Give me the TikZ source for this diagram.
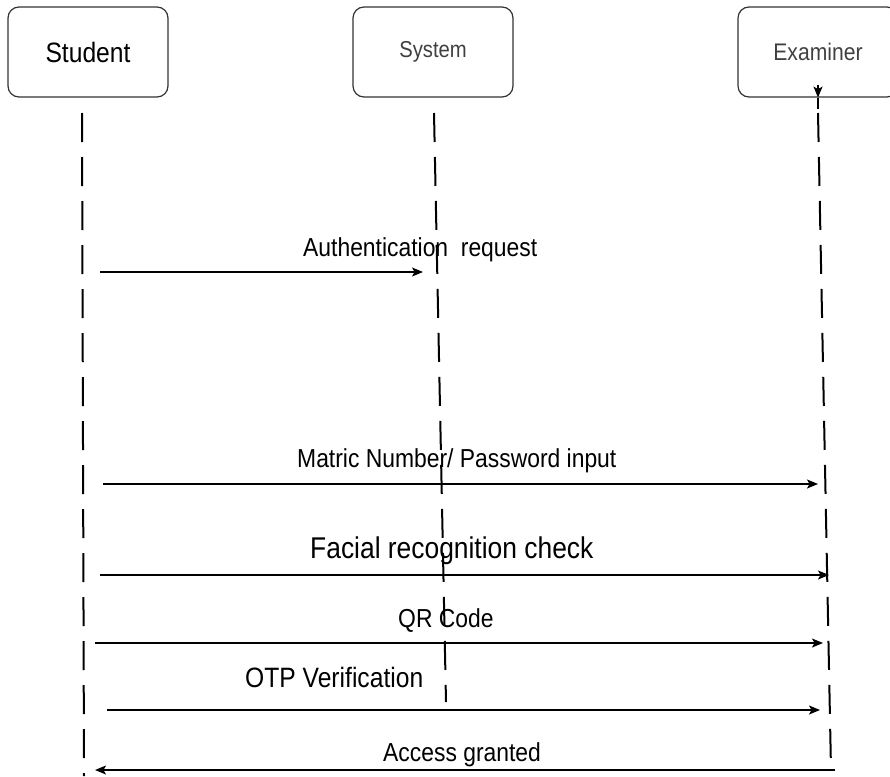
\documentclass[tikz,border=0pt]{standalone}
\usepackage{fontspec}
\setmainfont[FakeStretch=0.88]{Liberation Sans}
\usetikzlibrary{arrows.meta,positioning}

\tikzset{
  actor/.style={draw=black!80, line width=1.2pt, rounded corners=11pt,
    minimum width=160pt, minimum height=90pt, inner sep=0pt},
  lifeline/.style={line width=2pt, dash pattern=on 29pt off 15pt},
  message/.style={line width=1.4pt, -{Stealth[length=11pt,width=9pt,inset=2.5pt]}},
  msglabel/.style={anchor=base west, inner sep=0pt, font=\fontsize{26}{30}\selectfont},
}

\begin{document}
\begin{tikzpicture}[x=1pt,y=-1pt]
\useasboundingbox (0,0) rectangle (890,776);

% participants
\node[actor, font=\fontsize{28}{32}\selectfont] at (88,52) (student) {Student};
\node[actor, font=\fontsize{23}{27}\selectfont, text=black!75] at (433,52) (system) {System};
\node[actor, font=\fontsize{24}{28}\selectfont, text=black!75] at (818,52) (examiner) {Examiner};

% lifelines
\coordinate (stutop) at (82,113);
\coordinate (stubot) at (84,776);
\coordinate (systop) at (434,113);
\coordinate (sysbot) at (446,702);
\coordinate (extop) at (818,113);
\coordinate (exbot) at (831,770);

\draw[lifeline] (stutop) -- (stubot);
\draw[lifeline] (systop) -- (sysbot);
\draw[lifeline] (extop) -- (exbot);
\draw[message] ([yshift=13pt]examiner.south) -- (examiner.south);
\draw[line width=1.4pt] (examiner.south) -- ++(0,11);

% messages
\coordinate (auths) at (100,272);  \coordinate (authe) at (423,272);
\coordinate (matrs) at (103,484);  \coordinate (matre) at (818,484);
\coordinate (facs) at (100,575);   \coordinate (face) at (829,575);
\coordinate (qrs) at (95,643);     \coordinate (qre) at (823,643);
\coordinate (otps) at (107,710);   \coordinate (otpe) at (820,710);
\coordinate (accs) at (835,770);   \coordinate (acce) at (95,770);

\draw[message] (auths) -- (authe);
\draw[message] (matrs) -- (matre);
\draw[message] (facs) -- (face);
\draw[message] (qrs) -- (qre);
\draw[message] (otps) -- (otpe);
\draw[message] (accs) -- (acce);

\node[msglabel] at (303,256) (authlbl) {Authentication\ \ request};
\node[msglabel] at (297,467) (matlbl) {Matric Number/ Password input};
\node[msglabel, font=\fontsize{30}{34}\selectfont] at (310,558) (faclbl) {Facial recognition check};
\node[msglabel] at (398,627) (qrlbl) {QR Code};
\node[msglabel, font=\fontsize{28}{32}\selectfont] at (245,687) (otplbl) {OTP Verification};
\node[msglabel] at (383,761) (acclbl) {Access granted};

\end{tikzpicture}
\end{document}
